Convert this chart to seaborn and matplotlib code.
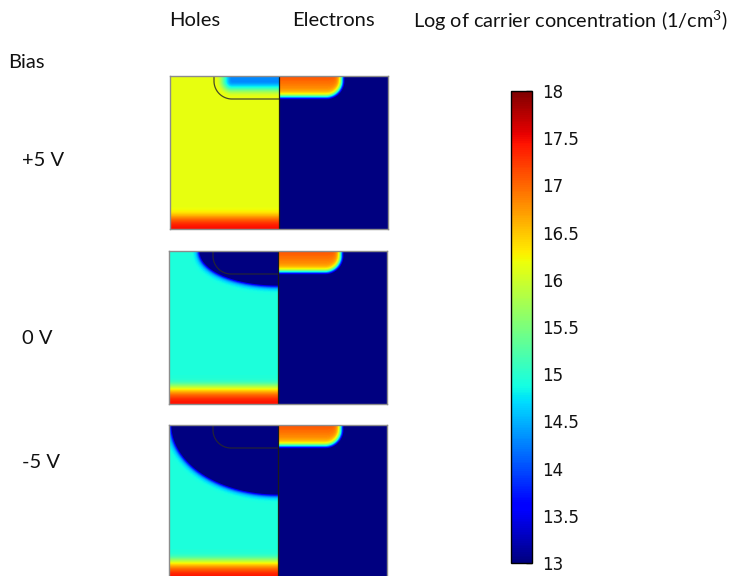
import numpy as np
import matplotlib
matplotlib.use("Agg")
import matplotlib.pyplot as plt
import seaborn as sns

# ---------------- data ----------------
bias_labels = ["+5 V", "0 V", "-5 V"]
hole_bulk_log = [16.15, 14.93, 14.93]        # log10 hole conc. in p-bulk
hole_nwell_min = [14.3, 11.0, 11.0]          # log10 holes deep inside n-well
depletion_a_px = [0.0, 76.0, 104.0]          # lateral extent of depleted zone
depletion_b_px = [0.0, 32.0, 67.0]           # vertical extent of depleted zone
electron_peak_log = [17.12, 17.12, 17.12]    # log10 electrons at n-well top
substrate_peak_log = [17.45, 17.45, 17.45]   # log10 holes at p+ substrate
cbar_ticks = [13, 13.5, 14, 14.5, 15, 15.5, 16, 16.5, 17, 17.5, 18]
cbar_ticklabels = ["13", "13.5", "14", "14.5", "15", "15.5", "16", "16.5", "17", "17.5", "18"]
column_titles = ["Holes", "Electrons"]
cbar_title = "Log of carrier concentration (1/cm$^3$)"
vmin, vmax = 13, 18

# ---------------- geometry of one panel (grid cells) ----------------
NROW, NCOL = 153, 218
MID = 109
NW_W, NW_D, NW_R = 65.0, 23.0, 18.0   # n-well half width, depth, corner radius
SUB_L = 8.8                            # p+ substrate decay length

cols = np.arange(NCOL) + 0.5
rows = np.arange(NROW) + 0.5
X, Y = np.meshgrid(cols, rows)
U = np.abs(X - MID)
Z = NROW - Y
left = X < MID

qx = U - (NW_W - NW_R)
qy = Y - (NW_D - NW_R)
outside = np.sqrt(np.maximum(qx, 0) ** 2 + np.maximum(qy, 0) ** 2)
inside = np.minimum(np.maximum(qx, qy), 0)
D_NW = outside + inside - NW_R        # signed distance to n-well edge


def panel_field(i):
    # electrons (right half)
    e_core = electron_peak_log[i] - 0.025 * Y
    e = 12.0 + (e_core - 12.0) / (1.0 + np.exp((D_NW + 1.5) / 1.8))
    # holes (left half)
    bulk = hole_bulk_log[i]
    h = np.log10(10.0 ** bulk + 10.0 ** substrate_peak_log[i] * np.exp(-(Z / SUB_L) ** 2))
    a, b = depletion_a_px[i], depletion_b_px[i]
    if a > 0:
        rho = np.sqrt((U / a) ** 2 + (Y / b) ** 2)
        grad = np.sqrt((U / a ** 2) ** 2 + (Y / b ** 2) ** 2) / np.maximum(rho, 1e-6)
        sd = (rho - 1.0) / np.maximum(grad, 1e-6)
        h = 11.0 + (h - 11.0) / (1.0 + np.exp(-(sd - 2.0) / 1.8))
    else:
        t = np.clip((-D_NW - 2.0) / 16.0, 0, 1)
        s = t * t * (3 - 2 * t)
        h = h - (bulk - hole_nwell_min[i]) * s
    return np.where(left, h, e)


# ---------------- figure ----------------
sns.set_theme(style="white")
plt.rcParams["font.family"] = ["Lato", "DejaVu Sans"]
plt.rcParams["mathtext.fontset"] = "custom"
plt.rcParams["mathtext.rm"] = "Lato"
plt.rcParams["mathtext.it"] = "Lato"

W_PX, H_PX = 731, 576
fig = plt.figure(figsize=(W_PX / 100, H_PX / 100), dpi=100)


def fx(px):
    return px / W_PX


def fy(py):
    return 1 - py / H_PX


panel_boxes = [(170, 76, 218, 153), (169, 251, 218, 153), (169, 425, 218, 153)]
cax = fig.add_axes([fx(511), fy(563), 21 / W_PX, (563 - 91) / H_PX])

cb = None
for i, (px, py, pw, ph) in enumerate(panel_boxes):
    ax = fig.add_axes([fx(px), fy(py + ph), pw / W_PX, ph / H_PX])
    field = panel_field(i)
    sns.heatmap(field, ax=ax, cmap="jet", vmin=vmin, vmax=vmax,
                xticklabels=False, yticklabels=False,
                cbar=(i == 0), cbar_ax=cax if i == 0 else None,
                cbar_kws={"ticks": cbar_ticks} if i == 0 else None,
                rasterized=True)
    if i == 0:
        cb = ax.collections[0].colorbar
    ax.set_xlim(0, NCOL)
    ax.set_ylim(NROW, 0)
    for sp in ax.spines.values():
        sp.set_visible(True)
        sp.set_color("#8c8c8c")
        sp.set_linewidth(1.0)
    # n-well outline on the holes side
    cx, cy = MID - NW_W + NW_R, NW_D - NW_R
    t = np.linspace(0, np.pi / 2, 40)
    ox = np.concatenate([[MID - NW_W], cx - NW_R * np.cos(t), [MID]])
    oy = np.concatenate([[0], cy + NW_R * np.sin(t), [NW_D]])
    ax.plot(ox, oy, color="#2a2a2a", lw=0.9, alpha=0.85)
    ax.plot([MID, MID], [0, NROW], color="#1a1a1a", lw=0.9)
    fig.text(fx(22), fy([161, 338, 462][i]), bias_labels[i], fontsize=14.5,
             ha="left", va="center", color="#111111")

if cb is not None:
    cb.set_ticks(cbar_ticks)
    cb.set_ticklabels(cbar_ticklabels)
    cb.outline.set_edgecolor("black")
    cb.outline.set_linewidth(1.0)
cax.tick_params(axis="y", direction="in", length=4, width=1, color="#222222",
                labelsize=12, pad=7, right=True, labelright=True,
                labelcolor="#111111")
for lab in cax.get_yticklabels():
    lab.set_fontfamily("DejaVu Sans")

fig.text(fx(169), fy(20), column_titles[0], fontsize=14.5, ha="left", va="center", color="#111111")
fig.text(fx(292), fy(20), column_titles[1], fontsize=14.5, ha="left", va="center", color="#111111")
fig.text(fx(413), fy(21), cbar_title, fontsize=14.3, ha="left", va="center", color="#111111")
fig.text(fx(8), fy(63), "Bias", fontsize=14.5, ha="left", va="center", color="#111111")

fig.savefig("out.png", dpi=100)
